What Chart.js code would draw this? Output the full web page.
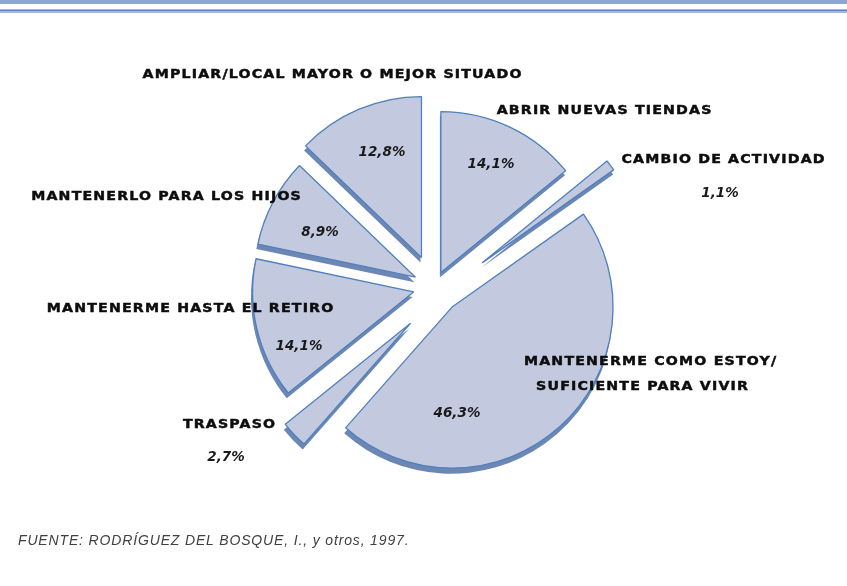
<!DOCTYPE html>
<html>
<head>
<meta charset="utf-8">
<script src="https://cdn.jsdelivr.net/npm/chart.js@4.4.1/dist/chart.umd.min.js"></script>
<style>
  body { margin: 0; background: #fff; }
  #wrap { position: relative; width: 847px; height: 586px; overflow: hidden; }
  #band { position: absolute; left: 0; top: 0; width: 847px; height: 4px; background: #8aa7d0; }
  #rule { position: absolute; left: 0; top: 9px; width: 847px; height: 1px; background: #a3b9da;
          border-bottom: 1px solid #5b86c0; box-shadow: 0 2px 0 #a3b9da; }
  #chart-box { position: absolute; left: 0; top: 0; width: 847px; height: 586px; }
  #source { position: absolute; left: 18px; top: 532px; font: italic 14px "Liberation Sans", Arial, sans-serif;
            color: #404040; letter-spacing: 0.85px; }
</style>
</head>
<body>
<div id="wrap">
  <div id="band"></div>
  <div id="rule"></div>
  <div id="chart-box"><canvas id="chart"></canvas></div>
  <div id="source">FUENTE: RODRÍGUEZ DEL BOSQUE, I., y otros, 1997.</div>
</div>
<script>
// categories clockwise from 12 o'clock
const categories = [
  "ABRIR NUEVAS TIENDAS",
  "CAMBIO DE ACTIVIDAD",
  ["MANTENERME COMO ESTOY/", "SUFICIENTE PARA VIVIR"],
  "TRASPASO",
  "MANTENERME HASTA EL RETIRO",
  "MANTENERLO PARA LOS HIJOS",
  "AMPLIAR/LOCAL MAYOR O MEJOR SITUADO"
];
const percentages = [14.1, 1.1, 46.3, 2.7, 14.1, 8.9, 12.8];

// how far each slice is pulled out (px), outward and sideways
const explode = [16, 53, 27, 42, 21, 21, 32];
const drift = [0, 10, 0, -10, 0, 0, 0];
// where the text goes
const labelPos = [
  [[604, 111]],
  [[723, 160]],
  [[650, 362], [642, 387]],
  [[229, 425]],
  [[190, 309]],
  [[166, 197]],
  [[332, 75]]
];
const pctPos = [[491, 164], [720, 193], [457, 413], [226, 457], [299, 346], [320, 232], [382, 152]];

const pieExtras = {
  id: "pieExtras",
  beforeDatasetsDraw(chart) {
    const area = chart.chartArea;
    const cx = (area.left + area.right) / 2;
    const cy = (area.top + area.bottom) / 2;
    const ctx = chart.ctx;
    const arcs = chart.getDatasetMeta(0).data;
    arcs.forEach((arc, i) => {
      const mid = (arc.startAngle + arc.endAngle) / 2;
      const c = Math.cos(mid), s = Math.sin(mid);
      arc.x = cx + explode[i] * c - drift[i] * s;
      arc.y = cy + explode[i] * s + drift[i] * c;
    });
    // drop shadow under each slice
    ctx.save();
    ctx.translate(-1, 5);
    ctx.fillStyle = "#6d87b5";
    arcs.forEach(arc => {
      ctx.beginPath();
      ctx.moveTo(arc.x, arc.y);
      ctx.arc(arc.x, arc.y, arc.outerRadius + 0.6, arc.startAngle, arc.endAngle);
      ctx.closePath();
      ctx.fill();
    });
    ctx.restore();
  },
  afterDatasetsDraw(chart) {
    const ctx = chart.ctx;
    ctx.save();
    ctx.fillStyle = "#0d0d0d";
    ctx.strokeStyle = "#0d0d0d";
    ctx.textAlign = "center";
    ctx.textBaseline = "middle";
    ctx.font = 'bold 12px "DejaVu Sans"';
    ctx.letterSpacing = "1px";
    ctx.lineWidth = 0.45;
    categories.forEach((cat, i) => {
      const lines = Array.isArray(cat) ? cat : [cat];
      lines.forEach((t, j) => {
        ctx.save();
        ctx.translate(labelPos[i][j][0] + 0.6, labelPos[i][j][1]);
        ctx.scale(1.18, 1);
        ctx.fillText(t, 0, 0);
        ctx.strokeText(t, 0, 0);
        ctx.restore();
      });
    });
    ctx.letterSpacing = "0px";
    ctx.font = 'italic bold 13.5px "DejaVu Sans"';
    ctx.fillStyle = "#1a1a1a";
    percentages.forEach((v, i) => {
      ctx.fillText(v.toFixed(1).replace(".", ",") + "%", pctPos[i][0], pctPos[i][1]);
    });
    ctx.restore();
  }
};

new Chart("chart", {
  type: "pie",
  data: {
    labels: categories,
    datasets: [{
      data: percentages,
      backgroundColor: "#c3c9de",
      borderColor: "#4f81bd",
      borderWidth: 1.3,
      radius: 161,
      clip: false
    }]
  },
  options: {
    responsive: true,
    maintainAspectRatio: false,
    animation: false,
    events: [],
    layout: { padding: { left: 21, right: 0, top: 0, bottom: 12 } },
    plugins: {
      legend: { display: false },
      tooltip: { enabled: false }
    }
  },
  plugins: [pieExtras]
});
</script>
</body>
</html>
